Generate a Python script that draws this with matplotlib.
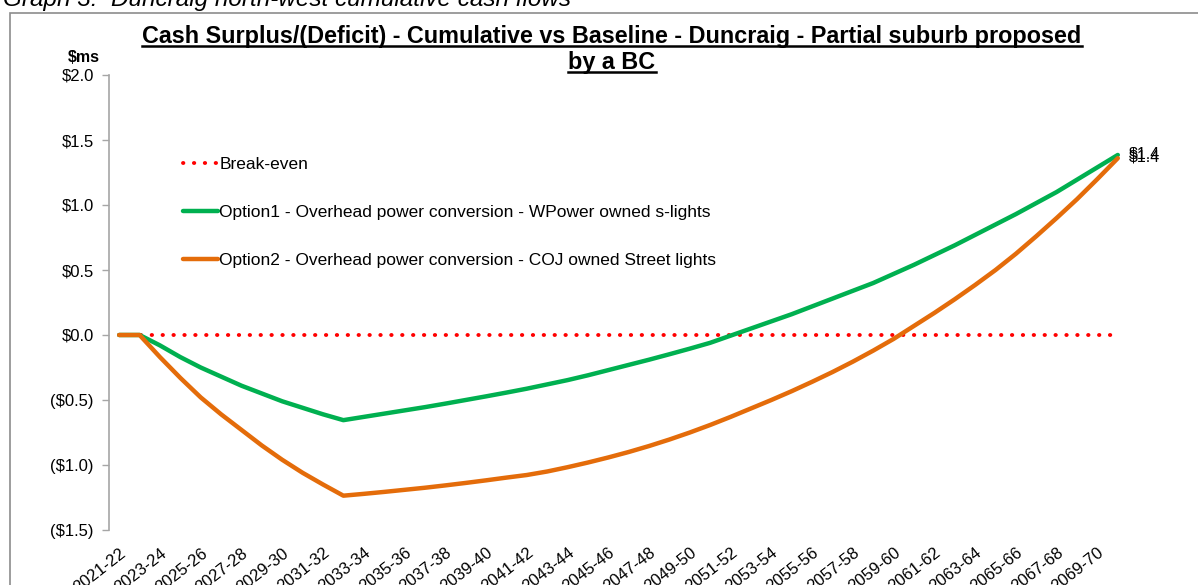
import matplotlib
matplotlib.use('Agg')
import matplotlib.pyplot as plt
from matplotlib.lines import Line2D
from matplotlib.patches import Rectangle

# Financial years 2021-22 .. 2070-71
years = [f'{y}-{str(y + 1)[-2:]}' for y in range(2021, 2071)]

option1 = [0.0, 0.0, -0.08, -0.17, -0.25, -0.32, -0.39, -0.45, -0.51, -0.56, -0.61, -0.655,
           -0.63, -0.605, -0.58, -0.555, -0.528, -0.50, -0.472, -0.443, -0.413,
           -0.38, -0.347, -0.31, -0.27, -0.23, -0.19, -0.148, -0.105, -0.06,
           -0.005, 0.05, 0.105, 0.16, 0.22, 0.28, 0.34, 0.40, 0.47, 0.54,
           0.615, 0.69, 0.77, 0.85, 0.93, 1.015, 1.10, 1.195, 1.29, 1.385]

option2 = [0.0, 0.0, -0.17, -0.33, -0.48, -0.61, -0.73, -0.85, -0.96, -1.06, -1.15, -1.236,
           -1.222, -1.207, -1.191, -1.175, -1.157, -1.138, -1.118, -1.097, -1.077,
           -1.05, -1.017, -0.981, -0.942, -0.90, -0.854, -0.804, -0.75, -0.692,
           -0.63, -0.565, -0.50, -0.432, -0.36, -0.285, -0.205, -0.12, -0.03, 0.07,
           0.17, 0.275, 0.385, 0.50, 0.625, 0.76, 0.90, 1.045, 1.20, 1.36]

break_even = [0.0] * len(years)

y_ticks = [2.0, 1.5, 1.0, 0.5, 0.0, -0.5, -1.0, -1.5]
y_labels = ['$2.0', '$1.5', '$1.0', '$0.5', '$0.0', '($0.5)', '($1.0)', '($1.5)']

plt.rcParams['font.family'] = ['Liberation Sans', 'DejaVu Sans']

W, H = 1198, 585
fig = plt.figure(figsize=(W / 100, H / 100), dpi=100)
ax = fig.add_axes([109 / W, 1 - 530 / H, (1128 - 109) / W, (530 - 75) / H])

x = list(range(len(years)))
ax.plot(x, break_even, color='#FF0000', lw=2.8, linestyle=(0, (0.1, 2.7)),
        dash_capstyle='round', label='Break-even')
ax.plot(x, option1, color='#00B050', lw=3.2, solid_capstyle='round',
        label='Option1 - Overhead power conversion - WPower owned s-lights')
ax.plot(x, option2, color='#E46C0A', lw=3.2, solid_capstyle='round',
        label='Option2 - Overhead power conversion - COJ owned Street lights')

# end-point data labels
for series in (option1, option2):
    ax.annotate(f'${series[-1]:.1f}', (x[-1], series[-1]), xytext=(8, 1),
                textcoords='offset points', fontsize=11.5, va='center', ha='left',
                annotation_clip=False)

ax.set_xlim(-0.5, len(years) - 0.5)
ax.set_ylim(-1.5, 2.0)
ax.set_yticks(y_ticks)
ax.set_yticklabels(y_labels, fontsize=12)
ax.set_xticks(x[::2])
ax.set_xticklabels(years[::2], fontsize=12, rotation=38, ha='right',
                   rotation_mode='anchor')
ax.tick_params(axis='x', length=0, pad=11)
ax.tick_params(axis='y', length=5, width=1, color='#A6A6A6', pad=6)
for side in ('top', 'right', 'bottom'):
    ax.spines[side].set_visible(False)
ax.spines['left'].set_color('#A6A6A6')
ax.spines['left'].set_linewidth(1.2)

leg = ax.legend(loc='upper left', bbox_to_anchor=(183 / W, 1 - 157 / H),
                bbox_transform=fig.transFigure, frameon=False, fontsize=12.5,
                labelspacing=1.88, handlelength=2.0, handletextpad=0.1,
                borderpad=0, borderaxespad=0)

# chart border and captions
fig.add_artist(Rectangle((10 / W, -0.1), 1.2, 1.1 - 13 / H,
                         transform=fig.transFigure, fill=False,
                         edgecolor='#8C8C8C', lw=1.2))
fig.text(3 / W, 1 - 6 / H, 'Graph 3:  Duncraig north-west cumulative cash flows',
         fontsize=17.5, style='italic', va='baseline', ha='left')
fig.text(84 / W, 1 - 57 / H, '$ms', fontsize=11.5, fontweight='bold',
         ha='center', va='center')

t1 = fig.text(612 / W, 1 - 43 / H,
              'Cash Surplus/(Deficit) - Cumulative vs Baseline - Duncraig - Partial suburb proposed',
              fontsize=16.8, fontweight='bold', ha='center', va='baseline')
t2 = fig.text(612 / W, 1 - 69 / H, 'by a BC', fontsize=16.8, fontweight='bold',
              ha='center', va='baseline')

# underline the title lines
fig.canvas.draw()
renderer = fig.canvas.get_renderer()
for t, base in ((t1, 43), (t2, 69)):
    bb = t.get_window_extent(renderer)
    yy = 1 - (base + 3) / H
    fig.add_artist(Line2D([bb.x0 / W, bb.x1 / W], [yy, yy], transform=fig.transFigure,
                          color='black', lw=1.8))

fig.savefig('out.png', dpi=100)
